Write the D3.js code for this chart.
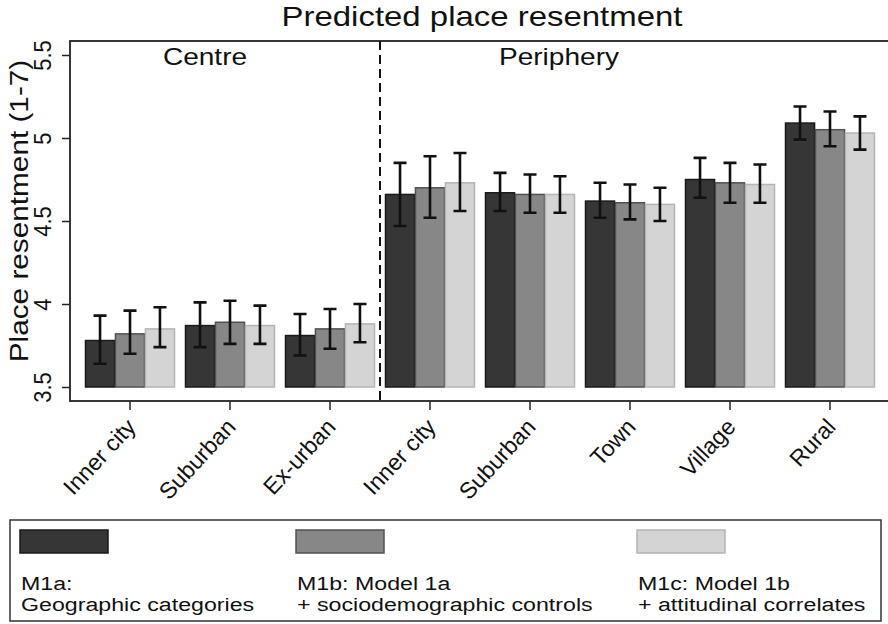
<!DOCTYPE html>
<html>
<head>
<meta charset="utf-8">
<script src="https://cdn.jsdelivr.net/npm/d3@7"></script>
<style>
  body { margin: 0; background: #fff; }
  text { font-family: "Liberation Sans", Arial, sans-serif; fill: #111; }
</style>
</head>
<body>
<div id="chart"></div>
<script>
// Categories (centre: first three, periphery: last five)
var categories = ["Inner city", "Suburban", "Ex-urban", "Inner city", "Suburban", "Town", "Village", "Rural"];
var seriesNames = ["M1a", "M1b", "M1c"];

// Predicted values and confidence bounds per model
var m1a   = [3.78, 3.87, 3.81, 4.66, 4.67, 4.62, 4.75, 5.09];
var m1aLo = [3.64, 3.74, 3.69, 4.47, 4.56, 4.52, 4.64, 4.99];
var m1aHi = [3.93, 4.01, 3.94, 4.85, 4.79, 4.73, 4.88, 5.19];

var m1b   = [3.82, 3.89, 3.85, 4.70, 4.66, 4.61, 4.73, 5.05];
var m1bLo = [3.70, 3.76, 3.73, 4.52, 4.55, 4.51, 4.61, 4.95];
var m1bHi = [3.96, 4.02, 3.97, 4.89, 4.78, 4.72, 4.85, 5.16];

var m1c   = [3.85, 3.87, 3.88, 4.73, 4.66, 4.60, 4.72, 5.03];
var m1cLo = [3.74, 3.76, 3.77, 4.56, 4.55, 4.50, 4.61, 4.93];
var m1cHi = [3.98, 3.99, 4.00, 4.91, 4.77, 4.70, 4.84, 5.13];

var yTicks = [3.5, 4, 4.5, 5, 5.5];
var legendLines = [
  ["M1a:", "Geographic categories"],
  ["M1b: Model 1a", "+ sociodemographic controls"],
  ["M1c: Model 1b", "+ attitudinal correlates"]
];

const width = 888;
const height = 624;
const sx = 1.22; // the source picture is stretched sideways, text too

var fills = ["#363636", "#878787", "#d4d4d4"];
var strokes = ["#1a1a1a", "#505050", "#b4b4b4"];

// build rows for drawing
var values = [m1a, m1b, m1c], lows = [m1aLo, m1bLo, m1cLo], highs = [m1aHi, m1bHi, m1cHi];
var data = categories.map(function(c, i) {
  return { id: i, name: c, bars: seriesNames.map(function(s, j) {
    return { series: s, k: j, value: values[j][i], lo: lows[j][i], hi: highs[j][i] };
  }) };
});

const svg = d3.select("#chart").append("svg")
  .attr("width", width)
  .attr("height", height);

// text placed at x,y and widened by sx
function wideText(parent, x, y, size, str, anchor) {
  return parent.append("text")
    .attr("transform", "translate(" + x + "," + y + ") scale(" + sx + ",1)")
    .attr("text-anchor", anchor || "start")
    .attr("font-size", size)
    .text(str);
}

// scales
var x0 = d3.scaleBand()
  .domain(data.map(function(d) { return d.id; }))
  .range([80, 880])
  .paddingInner(0.11)
  .paddingOuter(0.055);

var x1 = d3.scaleBand()
  .domain(seriesNames)
  .range([0, x0.bandwidth()])
  .paddingInner(0.03);

var y = d3.scaleLinear().domain([3.5, 5.5]).range([387, 55]);

var plotLeft = 70, plotTop = 41, plotBottom = 401, plotRight = 892;

// title
wideText(svg, 482, 26, 27, "Predicted place resentment", "middle");

// plot frame
svg.append("rect")
  .attr("x", plotLeft).attr("y", plotTop)
  .attr("width", plotRight - plotLeft).attr("height", plotBottom - plotTop)
  .attr("fill", "none").attr("stroke", "#222").attr("stroke-width", 1.8);

// bars
var groups = svg.selectAll("g.grp")
  .data(data)
  .enter().append("g")
  .attr("class", "grp")
  .attr("transform", function(d) { return "translate(" + x0(d.id) + ",0)"; });

groups.selectAll("rect")
  .data(function(d) { return d.bars; })
  .enter().append("rect")
  .attr("x", function(d) { return x1(d.series); })
  .attr("y", function(d) { return y(d.value); })
  .attr("width", x1.bandwidth())
  .attr("height", function(d) { return y(3.5) - y(d.value); })
  .attr("fill", function(d) { return fills[d.k]; })
  .attr("stroke", function(d) { return strokes[d.k]; })
  .attr("stroke-width", 1.5);

// error bars
var cap = 6.5;
groups.selectAll("path.err")
  .data(function(d) { return d.bars; })
  .enter().append("path")
  .attr("class", "err")
  .attr("d", function(d) {
    var cx = x1(d.series) + x1.bandwidth() / 2;
    return "M" + (cx - cap) + "," + y(d.hi) + "H" + (cx + cap) +
           "M" + cx + "," + y(d.hi) + "V" + y(d.lo) +
           "M" + (cx - cap) + "," + y(d.lo) + "H" + (cx + cap);
  })
  .attr("fill", "none").attr("stroke", "#111").attr("stroke-width", 2.6);

// divider between centre and periphery
var divX = (x0(2) + x0.bandwidth() + x0(3)) / 2;
svg.append("line")
  .attr("x1", divX).attr("x2", divX)
  .attr("y1", plotTop).attr("y2", plotBottom)
  .attr("stroke", "#111").attr("stroke-width", 2)
  .attr("stroke-dasharray", "9,5");

// panel labels
wideText(svg, 205, 65, 23, "Centre", "middle");
wideText(svg, 559, 65, 23, "Periphery", "middle");

// y axis
var yAxis = svg.append("g")
  .attr("transform", "translate(" + plotLeft + ",0)")
  .call(d3.axisLeft(y).tickValues(yTicks).tickSize(8).tickFormat(d3.format("")));
yAxis.select(".domain").remove();
yAxis.selectAll("line").attr("stroke", "#222").attr("stroke-width", 1.5);
yAxis.selectAll("text")
  .attr("x", 0).attr("dy", 0)
  .attr("font-size", 21)
  .attr("font-family", "Liberation Sans, Arial, sans-serif")
  .attr("fill", "#111")
  .attr("text-anchor", "middle")
  .attr("transform", "translate(-19,0) rotate(-90) scale(1.05,1.1)");

svg.append("text")
  .attr("transform", "translate(28,211) rotate(-90) scale(1.19,1)")
  .attr("text-anchor", "middle")
  .attr("font-size", 25)
  .text("Place resentment (1-7)");

// x axis
var xAxis = svg.append("g")
  .attr("transform", "translate(0," + plotBottom + ")")
  .call(d3.axisBottom(x0).tickSize(9).tickFormat(function(i) { return categories[i]; }));
xAxis.select(".domain").remove();
xAxis.selectAll("line").attr("stroke", "#222").attr("stroke-width", 1.5);
xAxis.selectAll("text")
  .attr("y", 0).attr("dy", 0)
  .attr("font-size", 23)
  .attr("font-family", "Liberation Sans, Arial, sans-serif")
  .attr("fill", "#111")
  .attr("text-anchor", "end")
  .attr("transform", "translate(7,27) rotate(-47)");

// legend
svg.append("rect")
  .attr("x", 10).attr("y", 520).attr("width", 871).attr("height", 101)
  .attr("fill", "#fff").attr("stroke", "#333").attr("stroke-width", 1.5);

var legendX = [20, 296, 637];
var leg = svg.selectAll("g.leg")
  .data(seriesNames)
  .enter().append("g")
  .attr("class", "leg")
  .attr("transform", function(d, i) { return "translate(" + legendX[i] + ",0)"; });

leg.append("rect")
  .attr("x", 0).attr("y", 530).attr("width", 88).attr("height", 23)
  .attr("fill", function(d, i) { return fills[i]; })
  .attr("stroke", function(d, i) { return strokes[i]; })
  .attr("stroke-width", 1.5);

leg.each(function(d, i) {
  var g = d3.select(this);
  legendLines[i].forEach(function(t, j) {
    wideText(g, 1, 590 + j * 20.5, 19, t, "start");
  });
});
</script>
</body>
</html>
